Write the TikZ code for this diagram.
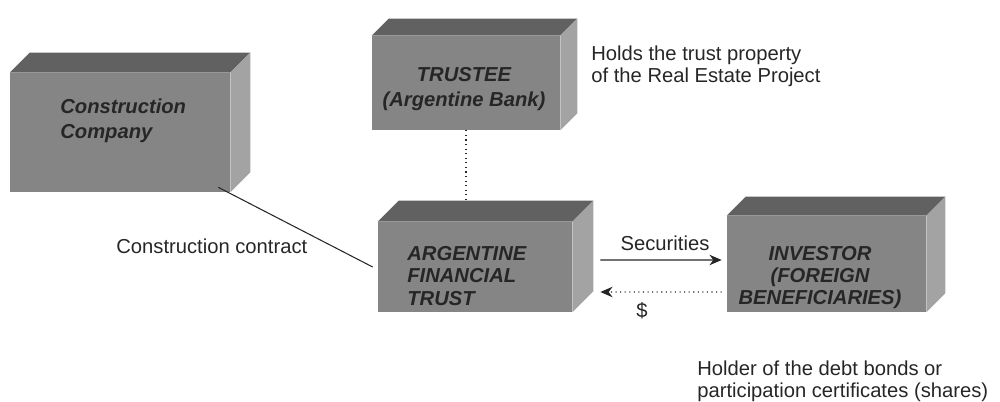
\documentclass[tikz,border=0pt]{standalone}
\usepackage{fontspec}
\setmainfont{Liberation Sans}
\usetikzlibrary{arrows.meta,calc}
\definecolor{frontc}{gray}{0.52}
\definecolor{topc}{gray}{0.38}
\definecolor{sidec}{gray}{0.64}
\definecolor{inkc}{gray}{0.15}
\tikzset{
  frontface/.style={fill=frontc, draw=none, inner sep=0pt},
  topface/.style={fill=topc, draw=none},
  sideface/.style={fill=sidec, draw=none},
  boxtext/.style={font=\fontsize{11.5}{14.2}\selectfont\bfseries\itshape, text=black!85, inner sep=0pt},
  plaintext/.style={font=\fontsize{11.5}{12.5}\selectfont, text=inkc, inner sep=0pt, align=left},
  conn/.style={draw=inkc, line width=0.6pt},
  arr/.style={draw=inkc, line width=0.6pt, -{Stealth[length=7pt,width=6pt]}},
}
\begin{document}
\begin{tikzpicture}[x=0.02cm,y=-0.02cm]
\useasboundingbox (0,0) rectangle (1000,402);
% Construction Company
\node[frontface, minimum width=4.4cm, minimum height=2.38cm] (cc) at (120,132.5) {};
\fill[topface] (cc.north west) -- ++(20,-20) -- ($(cc.north east)+(20,-20)$) -- (cc.north east) -- cycle;
\fill[sideface] (cc.north east) -- ++(20,-20) -- ($(cc.south east)+(20,-20)$) -- (cc.south east) -- cycle;
\node[boxtext, anchor=west, align=left] (cclab) at (60,121) {Construction\\Company};
% Trustee
\node[frontface, minimum width=3.76cm, minimum height=1.88cm] (tr) at (466,83) {};
\fill[topface] (tr.north west) -- ++(17,-17) -- ($(tr.north east)+(17,-17)$) -- (tr.north east) -- cycle;
\fill[sideface] (tr.north east) -- ++(17,-17) -- ($(tr.south east)+(17,-17)$) -- (tr.south east) -- cycle;
\node[boxtext, align=center] (trlab) at (464,89) {TRUSTEE\\(Argentine Bank)};
% Argentine Financial Trust
\node[frontface, minimum width=3.88cm, minimum height=1.8cm] (ft) at (475,267) {};
\fill[topface] (ft.north west) -- ++(21,-21) -- ($(ft.north east)+(21,-21)$) -- (ft.north east) -- cycle;
\fill[sideface] (ft.north east) -- ++(21,-21) -- ($(ft.south east)+(21,-21)$) -- (ft.south east) -- cycle;
\coordinate (fttop) at ($(ft.north)+(0,-21)$);
\node[boxtext, anchor=west, align=left, font=\fontsize{11.5}{13}\selectfont\bfseries\itshape] (ftlab) at (407,276) {ARGENTINE\\FINANCIAL\\TRUST};
% Investor
\node[frontface, minimum width=3.98cm, minimum height=1.92cm] (inv) at (826.5,264) {};
\fill[topface] (inv.north west) -- ++(19,-19) -- ($(inv.north east)+(19,-19)$) -- (inv.north east) -- cycle;
\fill[sideface] (inv.north east) -- ++(19,-19) -- ($(inv.south east)+(19,-19)$) -- (inv.south east) -- cycle;
\node[boxtext, align=center, font=\fontsize{11.5}{12.5}\selectfont\bfseries\itshape] (invlab) at (820,278) {INVESTOR\\(FOREIGN\\BENEFICIARIES)};
% connectors
\draw[conn, dotted, line width=0.8pt] (tr.south) -- (tr.south |- fttop);
\draw[conn] ([xshift=-0.24cm,yshift=0.1cm]cc.south east) -- ([xshift=-0.1cm]ft.west);
\draw[arr] ([xshift=0.56cm,yshift=0.14cm]ft.east) -- ([xshift=-0.1cm,yshift=0.08cm]inv.west);
\draw[arr, dotted, line width=0.8pt] ([xshift=-0.1cm,yshift=-0.56cm]inv.west) -- ([xshift=0.56cm,yshift=-0.5cm]ft.east);
% labels
\node[plaintext] (seclab) at (665,243) {Securities};
\node[plaintext] (dollab) at (642,311) {\$};
\node[plaintext, anchor=west] (cclabel) at (116,246) {Construction contract};
\node[plaintext, anchor=west] (holds) at (591,66) {Holds the trust property\\of the Real Estate Project};
\node[plaintext, anchor=west] (holder) at (697,381) {Holder of the debt bonds or\\participation certificates (shares)};
\end{tikzpicture}
\end{document}
